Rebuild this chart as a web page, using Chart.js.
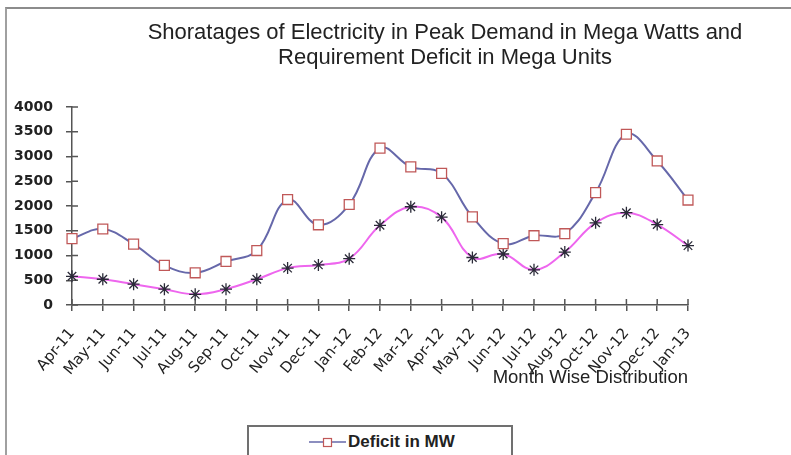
<!DOCTYPE html>
<html>
<head>
<meta charset="utf-8">
<script src="https://cdn.jsdelivr.net/npm/chart.js@4/dist/chart.umd.min.js"></script>
<style>
  html, body { margin: 0; padding: 0; background: #fff; }
  #wrap { position: relative; width: 791px; height: 455px; overflow: hidden; background: #fff; }
  #frame { position: absolute; left: 5px; top: 7px; right: -4px; bottom: -4px; border-left: 2px solid #a0a0a0; border-top: 2px solid #8c8c8c; }
  #title { position: absolute; left: 95px; width: 700px; top: 19px; text-align: center; font-family: "Liberation Sans", Arial, sans-serif; font-size: 22px; line-height: 25px; color: #222; }
  canvas { position: absolute; left: 0; top: 0; }
  #legend { position: absolute; left: 247px; top: 425px; width: 262px; height: 40px; border: 2px solid #707070; background: #fff; }
  #legend svg { position: absolute; left: 59px; top: 7px; }
  #legend span { position: absolute; left: 99px; top: 5px; font-family: "Liberation Sans", Arial, sans-serif; font-weight: bold; font-size: 17px; color: #222; white-space: nowrap; }
</style>
</head>
<body>
<div id="wrap">
  <div id="frame"></div>
  <canvas id="c" width="791" height="455"></canvas>
  <div id="title">Shoratages of Electricity in Peak Demand in Mega Watts and<br>Requirement Deficit in Mega Units</div>
  <div id="legend"><svg width="40" height="16"><line x1="1" y1="8" x2="38" y2="8" stroke="#6668aa" stroke-width="1.5"/><rect x="15.5" y="4.5" width="8" height="8" fill="#fff" stroke="#c05858" stroke-width="1.2"/></svg><span id="legText"></span></div>
</div>
<script>
const categories = ['Apr-11','May-11','Jun-11','Jul-11','Aug-11','Sep-11','Oct-11','Nov-11','Dec-11','Jan-12','Feb-12','Mar-12','Apr-12','May-12','Jun-12','Jul-12','Aug-12','Oct-12','Nov-12','Dec-12','Jan-13'];
const deficitMW = [1340, 1535, 1230, 800, 650, 880, 1100, 2130, 1620, 2030, 3170, 2790, 2660, 1780, 1240, 1400, 1440, 2270, 3450, 2910, 2120];
const deficitMU = [580, 520, 420, 320, 215, 320, 520, 745, 810, 935, 1610, 1985, 1775, 960, 1030, 710, 1070, 1660, 1865, 1625, 1200];
const seriesNames = ['Deficit in MW', 'Deficit in MU'];
const yTickValues = [0, 500, 1000, 1500, 2000, 2500, 3000, 3500, 4000];
const xAxisTitle = 'Month Wise Distribution';

document.getElementById('legText').textContent = seriesNames[0];

const axisColor = '#555';
const crossTicks = {
  id: 'crossTicks',
  beforeDatasetsDraw(chart) {
    const {ctx, chartArea, scales} = chart;
    ctx.save();
    ctx.strokeStyle = axisColor;
    ctx.lineWidth = 1.5;
    ctx.beginPath();
    scales.x.ticks.forEach((t, i) => {
      const px = scales.x.getPixelForTick(i);
      ctx.moveTo(px, chartArea.bottom);
      ctx.lineTo(px, chartArea.bottom - 6);
    });
    scales.y.ticks.forEach((t, i) => {
      const py = scales.y.getPixelForTick(i);
      ctx.moveTo(chartArea.left, py);
      ctx.lineTo(chartArea.left + 6, py);
    });
    ctx.stroke();
    ctx.restore();
  }
};

new Chart(document.getElementById('c'), {
  type: 'line',
  data: {
    labels: categories,
    datasets: [
      {
        label: seriesNames[0],
        data: deficitMW,
        borderColor: '#6668aa',
        borderWidth: 2,
        tension: 0.4,
        pointStyle: 'rect',
        pointRadius: 7,
        pointBorderColor: '#c05858',
        pointBackgroundColor: '#ffffff',
        pointBorderWidth: 1.3
      },
      {
        label: seriesNames[1],
        data: deficitMU,
        borderColor: '#ee66ee',
        borderWidth: 2,
        tension: 0.4,
        pointStyle: 'star',
        pointRadius: 6,
        pointBorderColor: '#2a2a38',
        pointBackgroundColor: '#2a2a38',
        pointBorderWidth: 1.3
      }
    ]
  },
  options: {
    responsive: false,
    animation: false,
    layout: { padding: { left: 0, top: 107, right: 103, bottom: 0 } },
    plugins: { legend: { display: false }, title: { display: false }, tooltip: { enabled: false } },
    scales: {
      x: {
        offset: false,
        afterFit(scale) { scale.height = 150; },
        grid: { display: true, drawOnChartArea: false, drawTicks: true, tickLength: 6, color: axisColor, lineWidth: 1.5 },
        border: { display: true, color: axisColor, width: 1.5 },
        ticks: {
          autoSkip: false, minRotation: 50, maxRotation: 50, padding: 14,
          color: '#222', font: { family: 'DejaVu Sans', size: 15 }
        },
        title: {
          display: true, text: xAxisTitle, align: 'end', color: '#222',
          font: { family: 'Liberation Sans', size: 18.5 }, padding: { top: 0, bottom: 66 }
        }
      },
      y: {
        min: 0, max: 4000,
        afterFit(scale) { scale.width = 72; },
        afterBuildTicks(scale) { scale.ticks = yTickValues.map(v => ({ value: v })); },
        grid: { display: true, drawOnChartArea: false, drawTicks: true, tickLength: 6, color: axisColor, lineWidth: 1.5 },
        border: { display: true, color: axisColor, width: 1.5 },
        ticks: {
          padding: 13, color: '#222', font: { family: 'DejaVu Sans', size: 14, weight: 'bold' },
          callback(value) { return String(value); }
        }
      }
    }
  },
  plugins: [crossTicks]
});
</script>
</body>
</html>
